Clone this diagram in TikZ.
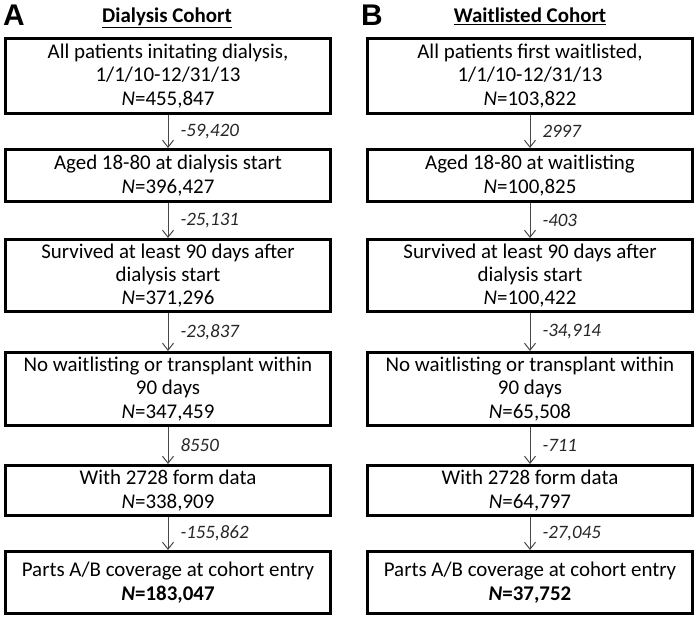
\documentclass[tikz,border=0pt]{standalone}
\usepackage{fontspec}
\setmainfont{Carlito}
\newfontfamily\panelfont{Liberation Sans}
\usetikzlibrary{arrows.meta}

\begin{document}
\begin{tikzpicture}[x=1bp, y=-1bp]
    \tikzset{>={Straight Barb[length=7bp,width=11bp]}}
    \tikzset{box/.style={draw, line width=2.6bp, minimum width=325bp, inner sep=0pt,
        align=center, font=\fontsize{21}{23.5}\selectfont}}
    \tikzset{flow/.style={->, draw=black!72, line width=1bp}}
    \tikzset{drop/.style={right, inner sep=0pt, xshift=12bp, text=black!85,
        font=\fontsize{19}{21}\selectfont\itshape}}
    \tikzset{panel/.style={anchor=base west, inner sep=0pt,
        font=\panelfont\fontsize{30}{30}\selectfont\bfseries}}
    \tikzset{heading/.style={anchor=base, inner sep=0pt,
        font=\fontsize{21}{23.5}\selectfont\bfseries}}

    \useasboundingbox (0,0) rectangle (697,619);

    % Panel letters and headings
    \node[panel] (pa) at (3,26) {A};
    \node[panel] (pb) at (361,26) {B};
    \node[heading] (ha) at (167,23) {\underline{Dialysis Cohort}};
    \node[heading] (hb) at (530,23) {\underline{Waitlisted Cohort}};

    % Dialysis cohort
    \node[box, minimum height=75.4bp] (a1) at (168,76)
        {All patients initating dialysis,\\1/1/10-12/31/13\\\textit{N}=455,847};
    \node[box, minimum height=52.4bp] (a2) at (168,175.5)
        {Aged 18-80 at dialysis start\\\textit{N}=396,427};
    \node[box, minimum height=72.4bp] (a3) at (168,275.5)
        {Survived at least 90 days after\\dialysis start\\\textit{N}=371,296};
    \node[box, minimum height=73.4bp] (a4) at (168,389)
        {No waitlisting or transplant within\\90 days\\\textit{N}=347,459};
    \node[box, minimum height=50.4bp] (a5) at (168,490.5)
        {With 2728 form data\\\textit{N}=338,909};
    \node[box, minimum height=62.4bp] (a6) at (168,582.5)
        {Parts A/B coverage at cohort entry\\\textbf{\textit{N}=183,047}};

    \draw[flow] (a1) -- node[drop] {-59,420} (a2);
    \draw[flow] (a2) -- node[drop] {-25,131} (a3);
    \draw[flow] (a3) -- node[drop] {-23,837} (a4);
    \draw[flow] (a4) -- node[drop] {8550} (a5);
    \draw[flow] (a5) -- node[drop] {-155,862} (a6);

    % Waitlisted cohort
    \node[box, minimum height=75.4bp] (b1) at (530,76)
        {All patients first waitlisted,\\1/1/10-12/31/13\\\textit{N}=103,822};
    \node[box, minimum height=52.4bp] (b2) at (530,175.5)
        {Aged 18-80 at waitlisting\\\textit{N}=100,825};
    \node[box, minimum height=72.4bp] (b3) at (530,275.5)
        {Survived at least 90 days after\\dialysis start\\\textit{N}=100,422};
    \node[box, minimum height=73.4bp] (b4) at (530,389)
        {No waitlisting or transplant within\\90 days\\\textit{N}=65,508};
    \node[box, minimum height=50.4bp] (b5) at (530,490.5)
        {With 2728 form data\\\textit{N}=64,797};
    \node[box, minimum height=62.4bp] (b6) at (530,582.5)
        {Parts A/B coverage at cohort entry\\\textbf{\textit{N}=37,752}};

    \draw[flow] (b1) -- node[drop] {2997} (b2);
    \draw[flow] (b2) -- node[drop] {-403} (b3);
    \draw[flow] (b3) -- node[drop] {-34,914} (b4);
    \draw[flow] (b4) -- node[drop] {-711} (b5);
    \draw[flow] (b5) -- node[drop] {-27,045} (b6);
\end{tikzpicture}
\end{document}
